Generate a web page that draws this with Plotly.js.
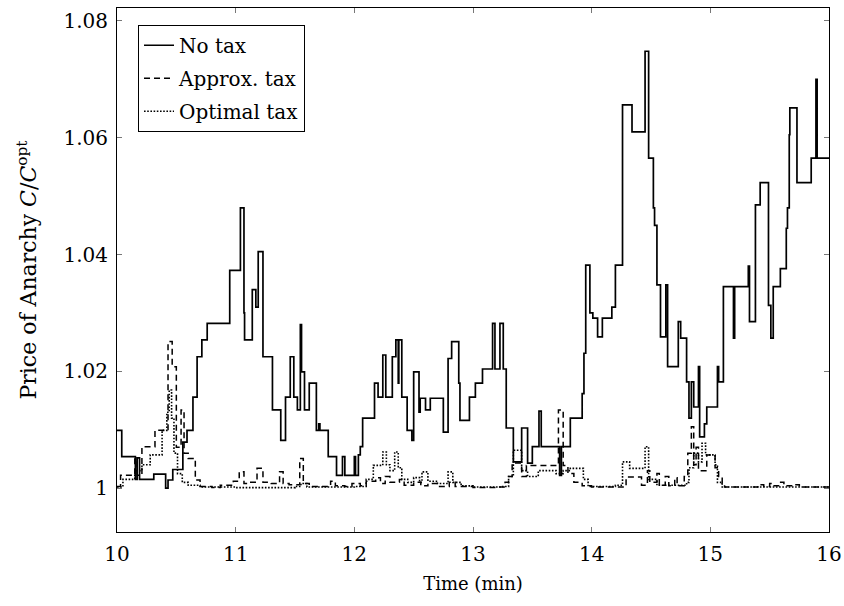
<!DOCTYPE html>
<html>
<head>
<meta charset="utf-8">
<script src="https://cdn.plot.ly/plotly-3.0.1.min.js"></script>
<style>html,body{margin:0;padding:0;background:#fff;}#chart{width:844px;height:606px;}</style>
</head>
<body>
<div id="chart"></div>
<script>
// Time (min) / Price of Anarchy, step series (value holds until next time)
const noTaxT = [10.00,10.04,10.155,10.17,10.19,10.31,10.41,10.43,10.47,10.555,10.59,10.64,10.675,10.715,10.76,10.95,11.04,11.07,11.075,11.14,11.17,11.19,11.23,11.31,11.38,11.42,11.46,11.49,11.52,11.545,11.555,11.58,11.62,11.68,11.70,11.71,11.78,11.85,11.90,11.92,12.00,12.01,12.034,12.05,12.07,12.17,12.20,12.24,12.265,12.32,12.35,12.37,12.375,12.40,12.445,12.485,12.50,12.545,12.555,12.60,12.64,12.75,12.79,12.82,12.88,12.89,12.97,13.02,13.08,13.165,13.185,13.227,13.255,13.28,13.34,13.41,13.46,13.50,13.556,13.575,13.73,13.745,13.82,13.92,13.935,13.95,13.985,14.01,14.05,14.09,14.17,14.20,14.26,14.34,14.45,14.48,14.52,14.53,14.55,14.58,14.625,14.64,14.73,14.75,14.80,14.82,14.84,14.86,14.90,14.91,14.95,14.97,15.06,15.07,15.11,15.195,15.205,15.32,15.33,15.38,15.42,15.49,15.51,15.53,15.59,15.64,15.65,15.665,15.67,15.73,15.85,15.89,15.90,16.00];
const noTaxY = [1.0099,1.0054,1.0015,1.0052,1.0015,1.0024,1.0000,1.0014,1.0032,1.0079,1.0099,1.0156,1.0225,1.0254,1.0282,1.0373,1.0480,1.0300,1.0254,1.0340,1.0310,1.0405,1.0225,1.0134,1.0082,1.0156,1.0225,1.0156,1.0134,1.0280,1.0199,1.0134,1.0180,1.0099,1.0110,1.0099,1.0054,1.0022,1.0054,1.0022,1.0054,1.0022,1.0057,1.0071,1.0120,1.0180,1.0156,1.0228,1.0156,1.0225,1.0254,1.0180,1.0254,1.0156,1.0099,1.0082,1.0199,1.0130,1.0154,1.0134,1.0154,1.0096,1.0222,1.0251,1.0180,1.0116,1.0156,1.0180,1.0204,1.0282,1.0204,1.0282,1.0204,1.0103,1.0045,1.0103,1.0043,1.0071,1.0132,1.0071,1.0022,1.0071,1.0120,1.0162,1.0231,1.0382,1.0300,1.0291,1.0259,1.0291,1.0310,1.0382,1.0656,1.0610,1.0748,1.0565,1.0480,1.0450,1.0348,1.0259,1.0348,1.0208,1.0285,1.0257,1.0182,1.0120,1.0182,1.0139,1.0208,1.0088,1.0110,1.0139,1.0208,1.0182,1.0345,1.0257,1.0345,1.0380,1.0285,1.0485,1.0523,1.0313,1.0257,1.0345,1.0376,1.0445,1.0480,1.0605,1.0651,1.0523,1.0565,1.0700,1.0565,1.0565];

const approxT = [10.00,10.03,10.15,10.17,10.21,10.32,10.43,10.465,10.50,10.54,10.565,10.60,10.66,10.70,10.80,10.87,10.98,11.03,11.07,11.10,11.18,11.23,11.30,11.37,11.40,11.45,11.54,11.57,11.62,11.70,11.80,11.84,11.92,11.98,12.05,12.10,12.18,12.22,12.26,12.30,12.38,12.42,12.50,12.56,12.62,12.70,12.80,12.85,13.00,13.20,13.27,13.30,13.33,13.41,13.45,13.72,13.76,13.80,13.85,13.92,14.00,14.29,14.42,14.47,14.49,14.55,14.57,14.62,14.65,14.70,14.72,14.78,14.81,14.84,14.86,14.88,14.90,14.97,15.04,15.07,15.10,15.12,15.40,15.45,15.50,15.53,15.58,15.62,15.70,15.75,16.00];
const approxY = [1.0003,1.0022,1.0050,1.0022,1.0071,1.0099,1.0251,1.0208,1.0070,1.0134,1.0060,1.0051,1.0014,1.0003,1.0001,1.0005,1.0012,1.0028,1.0008,1.0010,1.0034,1.0010,1.0008,1.0028,1.0008,1.0006,1.0051,1.0008,1.0003,1.0003,1.0012,1.0004,1.0003,1.0008,1.0004,1.0012,1.0018,1.0008,1.0020,1.0010,1.0015,1.0005,1.0010,1.0004,1.0008,1.0003,1.0010,1.0003,1.0001,1.0002,1.0010,1.0020,1.0043,1.0020,1.0039,1.0134,1.0039,1.0025,1.0010,1.0004,1.0002,1.0019,1.0005,1.0030,1.0010,1.0025,1.0005,1.0020,1.0004,1.0018,1.0004,1.0020,1.0060,1.0105,1.0040,1.0070,1.0030,1.0057,1.0035,1.0020,1.0008,1.0002,1.0006,1.0003,1.0008,1.0004,1.0010,1.0004,1.0006,1.0002,1.0002];

const optT = [10.00,10.05,10.15,10.21,10.28,10.38,10.42,10.44,10.46,10.48,10.51,10.55,10.60,10.70,11.00,11.50,11.55,11.60,12.00,12.10,12.16,12.24,12.27,12.30,12.34,12.37,12.40,12.45,12.50,12.55,12.57,12.62,12.70,12.79,12.83,12.90,13.00,13.25,13.30,13.34,13.41,13.46,13.55,13.70,13.76,13.82,13.93,13.97,14.20,14.26,14.32,14.45,14.48,14.55,14.80,14.82,14.86,14.90,14.93,14.96,15.04,15.06,15.10,16.00];
const optY = [1.0002,1.0015,1.0030,1.0040,1.0057,1.0099,1.0130,1.0168,1.0120,1.0060,1.0025,1.0010,1.0005,1.0002,1.0001,1.0003,1.0008,1.0002,1.0003,1.0015,1.0039,1.0062,1.0040,1.0030,1.0062,1.0035,1.0015,1.0010,1.0018,1.0010,1.0028,1.0012,1.0008,1.0028,1.0010,1.0004,1.0002,1.0003,1.0020,1.0065,1.0030,1.0020,1.0030,1.0025,1.0030,1.0034,1.0015,1.0003,1.0005,1.0045,1.0034,1.0071,1.0015,1.0005,1.0010,1.0035,1.0060,1.0045,1.0077,1.0057,1.0040,1.0010,1.0002,1.0001];

const seriesNames = ['No tax','Approx. tax','Optimal tax'];
const yTickVals = [1,1.02,1.04,1.06,1.08];
const yTickText = ['1','1.02','1.04','1.06','1.08'];
const xTickVals = [10,11,12,13,14,15,16];

const FONT = 'DejaVu Serif, Liberation Serif, serif';
const traces = [
  {x:noTaxT, y:noTaxY, name:seriesNames[0], legendgroup:'a', mode:'lines', line:{shape:'hv', color:'#000', width:1.7}},
  {x:approxT, y:approxY, name:seriesNames[1], legendgroup:'b', mode:'lines', line:{shape:'hv', color:'#000', width:1.5, dash:'6px,4px'}},
  {x:optT, y:optY, name:seriesNames[2], legendgroup:'c', mode:'lines', line:{shape:'hv', color:'#000', width:1.6, dash:'1.6px,1.6px'}}
];
const axisCommon = {showline:true, linecolor:'#000', linewidth:1, mirror:'ticks', ticks:'inside', ticklen:5, tickcolor:'#777', showgrid:false, zeroline:false, tickfont:{family:FONT, size:20, color:'#000'}};
const layout = {
  width:844, height:606,
  margin:{l:117, r:15, t:8, b:74},
  paper_bgcolor:'#fff', plot_bgcolor:'#fff',
  font:{family:FONT, color:'#000'},
  showlegend:true,
  legend:{x:0.0295, y:0.968, xanchor:'left', yanchor:'top', bordercolor:'#000', borderwidth:1, bgcolor:'#fff', font:{family:FONT, size:20}, tracegroupgap:4, traceorder:'grouped'},
  xaxis:Object.assign({}, axisCommon, {range:[10,16], tickvals:xTickVals, ticktext:xTickVals.map(String), ticklabelstandoff:4, title:{text:'Time (min)', font:{family:FONT, size:18}, standoff:12}}),
  yaxis:Object.assign({}, axisCommon, {range:[0.9925,1.0822], tickvals:yTickVals, ticktext:yTickText, ticklabelstandoff:4, title:{text:'Price of Anarchy <i>C</i>/<i>C</i><sup>opt</sup>', font:{family:FONT, size:22}, standoff:20}})
};
Plotly.newPlot('chart', traces, layout, {displayModeBar:false, staticPlot:true});
</script>
</body>
</html>
